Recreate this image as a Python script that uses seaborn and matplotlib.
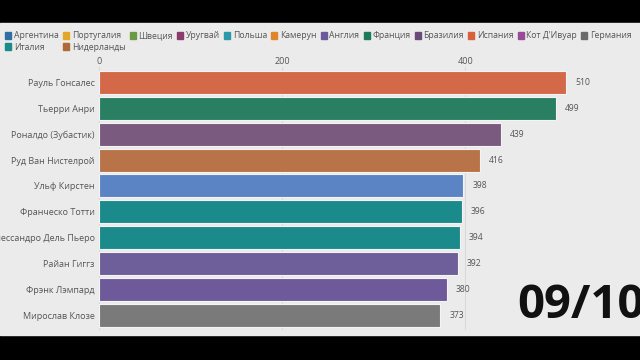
import matplotlib
matplotlib.use("Agg")
import matplotlib.pyplot as plt
import matplotlib.patches as mpatches
import seaborn as sns
import pandas as pd

players = ["Рауль Гонсалес", "Тьерри Анри", "Роналдо (Зубастик)", "Руд Ван Нистелрой",
           "Ульф Кирстен", "Франческо Тотти", "Алессандро Дель Пьеро", "Райан Гиггз",
           "Фрэнк Лэмпард", "Мирослав Клозе"]
goals = [510, 499, 439, 416, 398, 396, 394, 392, 380, 373]
bar_colors = ["#d4694a", "#2a7f62", "#7a5a7e", "#b87448", "#5b84c4",
              "#1b8a8a", "#1b8a8a", "#6e5e9a", "#6e5a9a", "#7a7a7a"]

countries = ["Аргентина", "Португалия", "Швеция", "Уругвай", "Польша", "Камерун",
             "Англия", "Франция", "Бразилия", "Испания", "Кот Д'Ивуар", "Германия",
             "Италия", "Нидерланды"]
country_colors = ["#2f6ea3", "#e3a626", "#6b9a45", "#8c3c6c", "#2a9aab", "#e0862a",
                  "#6a5a9a", "#1d7a5c", "#6a4a7a", "#d8603a", "#9a4a9a", "#6a6a6a",
                  "#1b8a8a", "#b06a3a"]
xticks = [0, 200, 400]

bg = "#ebebeb"
sns.set_style("white")
plt.rcParams["font.family"] = ["Open Sans", "DejaVu Sans"]

fig = plt.figure(figsize=(6.4, 3.6), dpi=100, facecolor="black")
fig.patches.append(mpatches.Rectangle((0, 25 / 360), 1, 1 - 48 / 360,
                                      transform=fig.transFigure, color=bg, zorder=-10))

ax = fig.add_axes([99 / 640, 30 / 360, 531 / 640, 263 / 360])
ax.set_facecolor(bg)
ax.patch.set_alpha(0)

df = pd.DataFrame({"player": players, "goals": goals})
sns.barplot(data=df, x="goals", y="player", hue="player", palette=bar_colors,
            legend=False, orient="h", width=0.89, edgecolor="#f4f4f4",
            linewidth=0.8, saturation=1, ax=ax, zorder=3)

ax.set_xlim(0, 580)
ax.set_ylim(9.58, -0.61)
ax.set_xticks(xticks)
ax.xaxis.tick_top()
ax.tick_params(axis="x", length=0, pad=1, labelsize=6.5, labelcolor="#555555")
ax.tick_params(axis="y", length=0, pad=3, labelsize=6.5, labelcolor="#555555")
ax.grid(axis="x", color="#d9d9d9", linewidth=0.8, zorder=0)
ax.set_xlabel("")
ax.set_ylabel("")
for s in ax.spines.values():
    s.set_visible(False)

for i, v in enumerate(goals):
    ax.text(v + 10, i, str(v), va="center", ha="left", fontsize=6.2, color="#555555")

# legend, reordered so it fills row by row
order = [0, 12, 1, 13, 2, 3, 4, 5, 6, 7, 8, 9, 10, 11]
handles = [mpatches.Patch(color=country_colors[k], label=countries[k]) for k in order]
fig.legend(handles=handles, loc="upper left", bbox_to_anchor=(0.003, 1 - 28 / 360),
           ncol=12, frameon=False, fontsize=6.2, handlelength=0.7, handleheight=0.9,
           handletextpad=0.3, columnspacing=0.5, borderaxespad=0, labelspacing=0.25,
           labelcolor="#555555")

fig.text(517 / 640, 1 - 305 / 360, "09/10", fontsize=34, fontweight="bold",
         color="#111111", ha="left", va="center")

fig.savefig("out.png", dpi=100, facecolor="black")
